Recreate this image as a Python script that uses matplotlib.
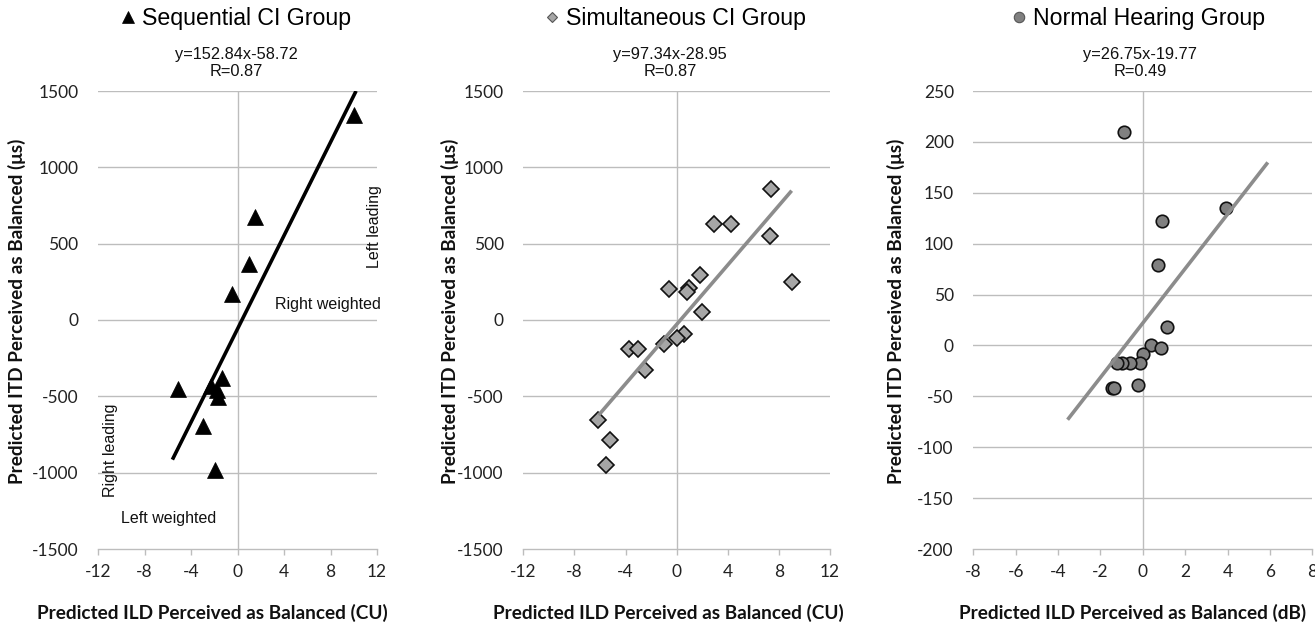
import matplotlib
matplotlib.use("Agg")
import matplotlib.pyplot as plt
from matplotlib.lines import Line2D
import numpy as np

plt.rcParams["axes.unicode_minus"] = False

# ---------------- data ----------------
seq_x = [10.0, 1.5, 1.0, -0.5, -5.1, -2.3, -1.3, -1.8, -1.7, -3.0, -1.9]
seq_y = [1340, 672, 365, 170, -455, -430, -378, -460, -505, -695, -985]
seq_fit = (152.84, -58.72)
seq_fit_x = [-5.6, 10.2]

sim_x = [7.35, 2.9, 4.25, 7.3, 9.0, 1.8, -0.6, 1.0, 0.8, 1.95, 0.55, 0.0, -1.0,
         -3.7, -3.05, -2.5, -6.15, -5.2, -5.55]
sim_y = [855, 627, 627, 552, 252, 294, 205, 209, 183, 54, -94, -120, -155,
         -190, -190, -329, -655, -783, -953]
sim_fit = (97.34, -28.95)
sim_fit_x = [-6.1, 9.0]

nh_x = [-0.9, 0.9, 0.7, 1.15, 0.4, 0.85, 0.0, -0.15, -0.6, -1.0, -1.2, -0.25,
        -1.45, -1.35, 3.95]
nh_y = [210, 122, 79, 18, 0, -3, -8, -17, -17, -17, -17, -39, -42, -42, 135]
nh_fit = (26.75, 22.0)          # line as drawn in the figure
nh_fit_x = [-3.55, 5.9]

titles = ["Sequential CI Group", "Simultaneous CI Group", "Normal Hearing Group"]
equations = ["y=152.84x-58.72", "y=97.34x-28.95", "y=26.75x-19.77"]
r_texts = ["R=0.87", "R=0.87", "R=0.49"]
xlabels = ["Predicted ILD Perceived as Balanced (CU)",
           "Predicted ILD Perceived as Balanced (CU)",
           "Predicted ILD Perceived as Balanced (dB)"]
ylabel = "Predicted ITD Perceived as Balanced (μs)"

xticks_ci = [-12, -8, -4, 0, 4, 8, 12]
yticks_ci = [-1500, -1000, -500, 0, 500, 1000, 1500]
xticks_nh = [-8, -6, -4, -2, 0, 2, 4, 6, 8]
yticks_nh = [-200, -150, -100, -50, 0, 50, 100, 150, 200, 250]

annot_texts = ["Right weighted", "Left leading", "Right leading", "Left weighted"]
annot_x = [7.8, 11.8, -10.9, -5.9]
annot_y = [103, 610, -855, -1301]
annot_rot = [0, 90, 90, 0]

# ---------------- figure ----------------
W, H = 1315, 632
fig = plt.figure(figsize=(W / 100, H / 100), dpi=100)

def fx(px):
    return px / W

def fy(py):
    return 1 - py / H

ax_top, ax_bot = 91, 549
axes_px = [(98, 279), (523.3, 306.7), (973.3, 339)]
axs = [fig.add_axes([fx(l), fy(ax_bot), fx(w), (ax_bot - ax_top) / H]) for l, w in axes_px]

SANS = ["Liberation Sans", "DejaVu Sans"]
TICKF = ["Lato", "DejaVu Sans"]
GRID = "#bdbdbd"

def style(ax, xt, yt):
    ax.set_xlim(xt[0], xt[-1])
    ax.set_ylim(yt[0], yt[-1])
    ax.set_xticks(xt)
    ax.set_yticks(yt)
    for s in ["top", "right", "left"]:
        ax.spines[s].set_visible(False)
    ax.spines["bottom"].set_color(GRID)
    ax.spines["bottom"].set_linewidth(1.0)
    ax.tick_params(axis="x", direction="out", length=4, width=1.0, color=GRID,
                   pad=7, labelsize=12.5, labelcolor="#222222")
    ax.tick_params(axis="y", length=0, pad=14, labelsize=12.5, labelcolor="#222222")
    for lab in ax.get_xticklabels() + ax.get_yticklabels():
        lab.set_family(TICKF)
    for v in yt[1:]:
        ax.axhline(v, color=GRID, lw=1.0, zorder=0)
    ax.axvline(0, color=GRID, lw=1.0, zorder=0)

styles = [
    dict(marker="^", color="black", ms=12, mec="black", mew=0.5),
    dict(marker="D", color="#a6a6a6", ms=8.5, mec="#111111", mew=1.2),
    dict(marker="o", color="#808080", ms=9, mec="#111111", mew=1.2),
]
legend_styles = [
    dict(marker="^", color="black", ms=8, mec="black", mew=0.5),
    dict(marker="D", color="#a6a6a6", ms=5, mec="#555555", mew=0.8),
    dict(marker="o", color="#808080", ms=7.5, mec="#555555", mew=0.8),
]
line_colors = ["black", "#8c8c8c", "#8c8c8c"]
xs = [seq_x, sim_x, nh_x]
ys = [seq_y, sim_y, nh_y]
fits = [seq_fit, sim_fit, nh_fit]
fit_xs = [seq_fit_x, sim_fit_x, nh_fit_x]
ticks = [(xticks_ci, yticks_ci), (xticks_ci, yticks_ci), (xticks_nh, yticks_nh)]
title_cx = [233.5, 673, 1136]
eq_cx = [236.5, 670, 1140]
ylab_x = [-0.258, -0.21, -0.201]
xlab_x = [0.41, 0.472, 0.471]

for i, ax in enumerate(axs):
    style(ax, *ticks[i])
    ax.plot(xs[i], ys[i], linestyle="none", zorder=3, **styles[i])
    fxs = np.array(fit_xs[i])
    m, b = fits[i]
    ax.plot(fxs, m * fxs + b, color=line_colors[i], lw=2.6, solid_capstyle="butt", zorder=4)
    ax.set_ylabel(ylabel, fontsize=13.7, fontweight="bold", family=TICKF, color="#111111")
    ax.yaxis.set_label_coords(ylab_x[i], 0.52)
    ax.set_xlabel(xlabels[i], fontsize=13.7, fontweight="bold", family=TICKF, color="#111111")
    ax.xaxis.set_label_coords(xlab_x[i], -0.12)
    h = Line2D([], [], linestyle="none", **legend_styles[i])
    fig.legend([h], [titles[i]], loc="center", bbox_to_anchor=(fx(title_cx[i]), fy(19)),
               frameon=False, handletextpad=0.1, handlelength=1.0, borderpad=0,
               prop=dict(family=SANS, size=16.7))
    fig.text(fx(eq_cx[i]), fy(55), equations[i], ha="center", va="center",
             fontsize=11.8, family=SANS, color="#111111")
    fig.text(fx(eq_cx[i]), fy(72), r_texts[i], ha="center", va="center",
             fontsize=11.8, family=SANS, color="#111111")

for t, x, y, r in zip(annot_texts, annot_x, annot_y, annot_rot):
    axs[0].text(x, y, t, rotation=r, ha="center", va="center", fontsize=11.5,
                family=SANS, color="#111111", zorder=5)

fig.savefig("out.png", dpi=100)
